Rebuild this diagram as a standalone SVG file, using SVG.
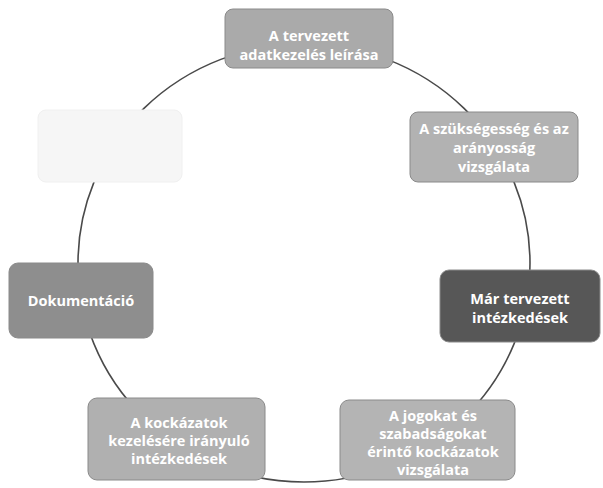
<svg xmlns="http://www.w3.org/2000/svg" width="603" height="488" viewBox="0 0 603 488">
<style>
.box{stroke:#8a8a8a;stroke-width:1}
.t{font-family:"Open Sans","Liberation Sans",sans-serif;font-weight:bold;font-size:14.5px;fill:#ffffff;text-anchor:middle}
.ring{fill:none;stroke:#4a4a4a;stroke-width:1.6}
</style>
<rect width="603" height="488" fill="#ffffff"/>
<g id="connectors">
<ellipse class="ring" cx="304" cy="263" rx="226" ry="219"/>
</g>
<g id="n1">
<rect class="box" x="225" y="9" width="168" height="59" rx="8" fill="#aaaaaa"/>
<text class="t" x="309" y="41">A tervezett</text>
<text class="t" x="309" y="60">adatkezelés leírása</text>
</g>
<g id="n2">
<rect class="box" x="410" y="112" width="168" height="70" rx="8" fill="#b2b2b2"/>
<text class="t" x="494" y="134">A szükségesség és az</text>
<text class="t" x="494" y="153">arányosság</text>
<text class="t" x="494" y="172">vizsgálata</text>
</g>
<g id="n3">
<rect class="box" x="440" y="270" width="160" height="72" rx="9" fill="#575757" stroke="#3a3a3a"/>
<text class="t" x="520" y="304" font-size="15.5">Már tervezett</text>
<text class="t" x="520" y="323" font-size="15.5">intézkedések</text>
</g>
<g id="n4">
<rect class="box" x="340" y="400" width="175" height="80" rx="9" fill="#b4b4b4" stroke="#a0a0a0"/>
<text class="t" x="433" y="421">A jogokat és</text>
<text class="t" x="433" y="439">szabadságokat</text>
<text class="t" x="433" y="457">érintő kockázatok</text>
<text class="t" x="433" y="475">vizsgálata</text>
</g>
<g id="n5">
<rect class="box" x="88" y="398" width="177" height="82" rx="9" fill="#b0b0b0" stroke="#a0a0a0"/>
<text class="t" x="179" y="428">A kockázatok</text>
<text class="t" x="179" y="446">kezelésére irányuló</text>
<text class="t" x="179" y="464">intézkedések</text>
</g>
<g id="n6">
<rect class="box" x="9" y="263" width="144" height="75" rx="9" fill="#8e8e8e" stroke="#7a7a7a"/>
<text class="t" x="81" y="306" font-size="15">Dokumentáció</text>
</g>
<g id="n7">
<rect x="38" y="110" width="144" height="72" rx="8" fill="#f6f6f6" stroke="#f0f0f0" stroke-width="1"/>
</g>
</svg>
